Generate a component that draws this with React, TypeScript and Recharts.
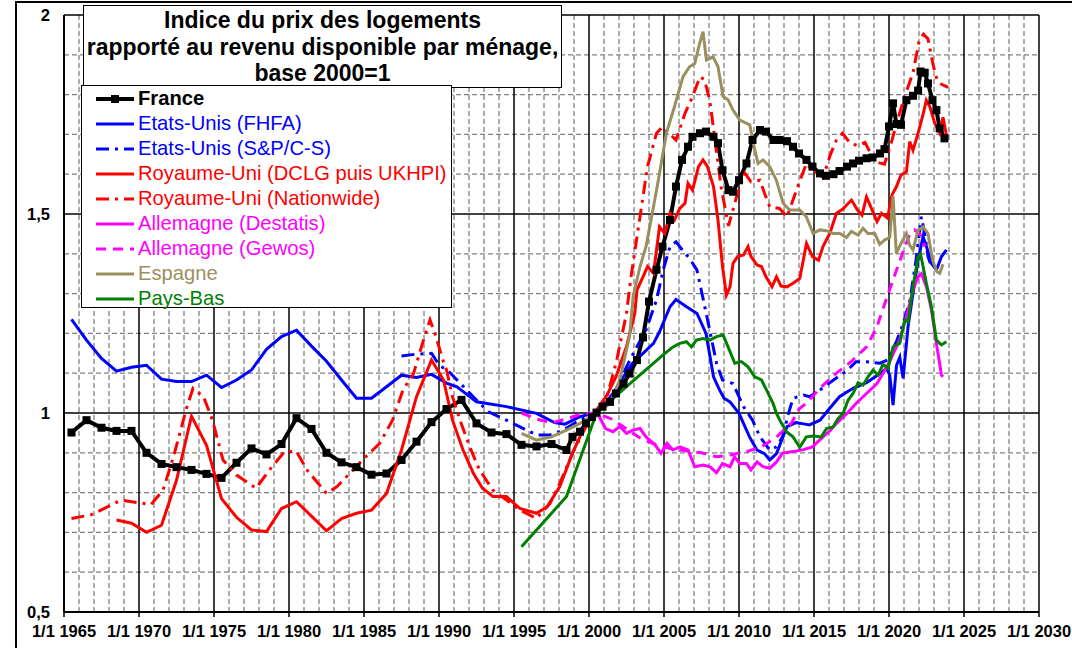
import { LineChart, Line, XAxis, YAxis, CartesianGrid } from 'recharts'

// [année décimale, indice base 2000=1]
const france: [number, number][] = [
  [1965.5, 0.951], [1966.5, 0.982], [1967.5, 0.963], [1968.5, 0.955], [1969.5, 0.955],
  [1970.5, 0.9], [1971.5, 0.872], [1972.5, 0.864], [1973.5, 0.857], [1974.5, 0.847],
  [1975.5, 0.837], [1976.5, 0.875], [1977.5, 0.911], [1978.5, 0.896], [1979.5, 0.922],
  [1980.5, 0.987], [1981.5, 0.96], [1982.5, 0.9], [1983.5, 0.876], [1984.5, 0.864],
  [1985.5, 0.845], [1986.5, 0.848], [1987.5, 0.882], [1988.5, 0.928], [1989.5, 0.977],
  [1990.5, 1.01], [1991.5, 1.033], [1992.5, 0.974], [1993.5, 0.951], [1994.5, 0.947],
  [1995.5, 0.92], [1996.5, 0.916], [1997.5, 0.922], [1998.5, 0.907], [1998.9, 0.94],
  [1999.4, 0.953], [1999.8, 0.974], [2000.2, 0.99], [2000.5, 1.001], [2000.9, 1.016],
  [2001.4, 1.028], [2001.8, 1.049], [2002.3, 1.074], [2002.7, 1.099], [2003.2, 1.133],
  [2003.6, 1.19], [2004.0, 1.28], [2004.5, 1.36], [2004.9, 1.418], [2005.4, 1.485],
  [2005.8, 1.569], [2006.2, 1.636], [2006.6, 1.669], [2006.9, 1.694], [2007.4, 1.703],
  [2007.8, 1.707], [2008.3, 1.694], [2008.6, 1.678], [2008.9, 1.61], [2009.3, 1.56],
  [2009.6, 1.556], [2010.0, 1.585], [2010.5, 1.627], [2010.9, 1.686], [2011.4, 1.711],
  [2011.8, 1.707], [2012.3, 1.686], [2012.7, 1.686], [2013.2, 1.683], [2013.6, 1.669],
  [2014.0, 1.652], [2014.5, 1.636], [2014.9, 1.619], [2015.4, 1.602], [2015.8, 1.596],
  [2016.3, 1.6], [2016.7, 1.608], [2017.2, 1.619], [2017.6, 1.627], [2018.0, 1.634],
  [2018.5, 1.64], [2018.9, 1.642], [2019.4, 1.652], [2019.7, 1.663], [2020.0, 1.72],
  [2020.27, 1.778], [2020.5, 1.726], [2020.8, 1.724], [2021.16, 1.786], [2021.6, 1.797],
  [2021.94, 1.81], [2022.1, 1.858], [2022.38, 1.855], [2022.6, 1.828], [2022.9, 1.786],
  [2023.16, 1.761], [2023.38, 1.715], [2023.7, 1.69],
]

const usFhfa: [number, number][] = [
  [1965.5, 1.235], [1966.5, 1.183], [1967.5, 1.137], [1968.5, 1.105], [1969.5, 1.115],
  [1970.5, 1.12], [1971.5, 1.085], [1972.5, 1.079], [1973.5, 1.079], [1974.5, 1.095],
  [1975.5, 1.064], [1976.5, 1.083], [1977.5, 1.108], [1978.5, 1.16], [1979.5, 1.192],
  [1980.5, 1.208], [1981.5, 1.168], [1982.5, 1.13], [1983.5, 1.083], [1984.5, 1.037],
  [1985.5, 1.037], [1986.5, 1.066], [1987.5, 1.095], [1988.5, 1.089], [1989.5, 1.097],
  [1990.5, 1.075], [1991.2, 1.066], [1992.5, 1.028], [1994.5, 1.016], [1996.5, 0.999],
  [1997.7, 0.976], [1998.4, 0.972], [1999.4, 0.991], [2000.3, 0.999], [2000.9, 1.016],
  [2001.6, 1.049], [2002.3, 1.091], [2002.9, 1.125], [2003.6, 1.15], [2004.3, 1.175],
  [2004.7, 1.204], [2005.4, 1.267], [2005.8, 1.285], [2006.5, 1.267], [2007.2, 1.25],
  [2007.8, 1.2], [2008.3, 1.091], [2008.7, 1.058], [2009.0, 1.037], [2009.4, 1.028],
  [2010.0, 0.999], [2010.7, 0.94], [2011.2, 0.907], [2011.7, 0.898], [2012.05, 0.882],
  [2012.5, 0.898], [2013.2, 0.966], [2013.8, 0.976], [2014.4, 0.972], [2014.7, 0.97],
  [2015.4, 0.982], [2016.05, 1.012], [2016.7, 1.041], [2017.6, 1.062], [2018.5, 1.076],
  [2019.4, 1.099], [2019.83, 1.112], [2020.05, 1.095], [2020.27, 1.02], [2020.5, 1.12],
  [2020.72, 1.14], [2020.94, 1.087], [2021.27, 1.217], [2021.6, 1.3], [2021.94, 1.384],
  [2022.27, 1.443], [2022.5, 1.418], [2022.83, 1.376], [2023.16, 1.359], [2023.5, 1.393],
  [2023.83, 1.41],
]

const usCaseShiller: [number, number][] = [
  [1987.5, 1.143], [1988.5, 1.148], [1989.5, 1.15], [1990.05, 1.118], [1990.5, 1.11],
  [1991.2, 1.083], [1992.3, 1.04], [1993.3, 1.003], [1994.5, 0.982], [1995.4, 0.965],
  [1996.5, 0.945], [1997.4, 0.945], [1998.3, 0.957], [1999.2, 0.978], [2000.3, 0.999],
  [2001.2, 1.024], [2001.8, 1.058], [2002.5, 1.116], [2003.1, 1.16], [2003.8, 1.208],
  [2004.5, 1.284], [2004.95, 1.36], [2005.4, 1.418], [2005.8, 1.43], [2006.4, 1.401],
  [2006.7, 1.389], [2007.2, 1.359], [2007.6, 1.288], [2008.05, 1.208], [2008.5, 1.125],
  [2008.9, 1.083], [2009.6, 1.074], [2010.3, 1.016], [2010.9, 0.982], [2011.4, 0.94],
  [2012.05, 0.907], [2012.5, 0.915], [2012.9, 0.94], [2013.3, 0.999], [2013.6, 1.037],
  [2014.3, 1.045], [2014.7, 1.041], [2015.4, 1.058], [2016.3, 1.083], [2017.2, 1.106],
  [2017.8, 1.129], [2018.5, 1.129], [2019.4, 1.125], [2019.9, 1.133], [2020.5, 1.18],
  [2020.9, 1.22], [2021.4, 1.284], [2021.8, 1.384], [2022.16, 1.493], [2022.38, 1.451],
  [2022.6, 1.393], [2022.83, 1.368],
]

const ukDclg: [number, number][] = [
  [1968.5, 0.731], [1969.5, 0.723], [1970.5, 0.7], [1971.5, 0.718], [1972.5, 0.831],
  [1973.5, 0.992], [1974.5, 0.919], [1975.5, 0.785], [1976.5, 0.738], [1977.5, 0.706],
  [1978.5, 0.702], [1979.5, 0.76], [1980.5, 0.777], [1981.5, 0.741], [1982.5, 0.704],
  [1983.5, 0.735], [1984.5, 0.748], [1985.5, 0.756], [1986.5, 0.798], [1987.5, 0.907],
  [1988.5, 1.041], [1989.5, 1.133], [1990.3, 1.083], [1990.9, 0.982], [1991.6, 0.907],
  [1992.3, 0.848], [1992.9, 0.811], [1993.6, 0.79], [1994.5, 0.79], [1995.4, 0.76],
  [1996.5, 0.748], [1997.2, 0.764], [1998.05, 0.815], [1998.9, 0.899], [1999.8, 0.974],
  [2000.5, 1.007], [2001.2, 1.045], [2001.8, 1.091], [2002.5, 1.167], [2003.05, 1.25],
  [2003.2, 1.309], [2003.6, 1.342], [2003.9, 1.368], [2004.3, 1.351], [2004.7, 1.468],
  [2005.05, 1.451], [2005.4, 1.502], [2005.7, 1.485], [2006.05, 1.514], [2006.4, 1.527],
  [2006.6, 1.577], [2006.9, 1.56], [2007.3, 1.619], [2007.6, 1.636], [2007.9, 1.619],
  [2008.3, 1.569], [2008.6, 1.485], [2008.9, 1.368], [2009.16, 1.296], [2009.4, 1.317],
  [2009.6, 1.376], [2009.9, 1.393], [2010.3, 1.397], [2010.6, 1.418], [2010.8, 1.393],
  [2011.2, 1.372], [2011.5, 1.368], [2011.8, 1.342], [2012.2, 1.317], [2012.5, 1.342],
  [2012.8, 1.319], [2013.2, 1.317], [2013.6, 1.326], [2014.05, 1.338], [2014.5, 1.426],
  [2014.9, 1.393], [2015.3, 1.384], [2015.6, 1.418], [2016.05, 1.451], [2016.5, 1.502],
  [2016.9, 1.512], [2017.5, 1.535], [2017.9, 1.51], [2018.2, 1.497], [2018.5, 1.543],
  [2018.9, 1.508], [2019.2, 1.481], [2019.5, 1.502], [2019.9, 1.49], [2020.2, 1.548],
  [2020.5, 1.569], [2020.8, 1.598], [2021.16, 1.606], [2021.38, 1.682], [2021.6, 1.66],
  [2021.94, 1.703], [2022.27, 1.75], [2022.49, 1.786], [2022.72, 1.77], [2023.05, 1.728],
  [2023.38, 1.703], [2023.6, 1.743], [2023.83, 1.698],
]

const ukNationwide: [number, number][] = [
  [1965.5, 0.735], [1966.8, 0.744], [1968.8, 0.781], [1970.8, 0.77], [1971.6, 0.806],
  [1972.3, 0.89], [1973.2, 1.016], [1973.6, 1.062], [1974.3, 1.041], [1974.9, 0.982],
  [1975.6, 0.882], [1976.5, 0.844], [1977.8, 0.811], [1978.7, 0.857], [1979.7, 0.903],
  [1980.5, 0.903], [1981.2, 0.857], [1982.5, 0.798], [1983.2, 0.815], [1984.05, 0.848],
  [1984.9, 0.882], [1986.05, 0.924], [1986.9, 0.982], [1987.6, 1.058], [1988.3, 1.099],
  [1988.9, 1.175], [1989.4, 1.234], [1989.8, 1.192], [1990.2, 1.14], [1990.5, 1.108],
  [1990.9, 1.041], [1991.4, 0.982], [1992.05, 0.915], [1992.7, 0.857], [1993.6, 0.806],
  [1994.5, 0.781], [1995.4, 0.756], [1996.5, 0.735], [1997.4, 0.773], [1998.05, 0.823],
  [1998.9, 0.899], [1999.8, 0.966], [2000.5, 1.003], [2001.2, 1.041], [2001.8, 1.125],
  [2002.5, 1.25], [2002.8, 1.342], [2003.4, 1.493], [2003.9, 1.619], [2004.5, 1.703],
  [2004.9, 1.719], [2005.4, 1.7], [2005.8, 1.686], [2006.4, 1.753], [2006.9, 1.795],
  [2007.4, 1.845], [2007.7, 1.837], [2008.05, 1.786], [2008.4, 1.686], [2008.8, 1.569],
  [2009.3, 1.47], [2009.9, 1.552], [2010.4, 1.602], [2010.8, 1.581], [2011.4, 1.585],
  [2011.7, 1.552], [2012.05, 1.518], [2012.7, 1.514], [2013.2, 1.493], [2013.6, 1.535],
  [2014.05, 1.583], [2014.5, 1.627], [2014.9, 1.61], [2015.6, 1.592], [2016.1, 1.65],
  [2016.5, 1.686], [2016.9, 1.703], [2017.4, 1.678], [2017.9, 1.672], [2018.4, 1.68],
  [2018.8, 1.65], [2019.2, 1.63], [2019.7, 1.625], [2020.16, 1.68], [2020.6, 1.74],
  [2021.0, 1.79], [2021.6, 1.855], [2022.0, 1.933], [2022.3, 1.952], [2022.6, 1.94],
  [2022.94, 1.875], [2023.2, 1.837], [2023.5, 1.826], [2023.94, 1.818],
]

const deDestatis: [number, number][] = [
  [2000.3, 1.005], [2000.7, 0.99], [2001.1, 0.961], [2001.6, 0.953], [2002.05, 0.966],
  [2002.5, 0.949], [2002.9, 0.957], [2003.4, 0.961], [2003.8, 0.94], [2004.4, 0.92],
  [2004.8, 0.899], [2005.2, 0.924], [2005.6, 0.907], [2006.05, 0.915], [2006.6, 0.907],
  [2007.05, 0.865], [2007.6, 0.869], [2008.05, 0.865], [2008.5, 0.85], [2008.9, 0.873],
  [2009.4, 0.865], [2009.7, 0.89], [2010.05, 0.873], [2010.5, 0.873], [2010.8, 0.857],
  [2011.2, 0.877], [2011.6, 0.865], [2012.05, 0.861], [2012.5, 0.877], [2012.9, 0.899],
  [2013.6, 0.903], [2014.3, 0.908], [2014.9, 0.915], [2015.6, 0.94], [2016.05, 0.955],
  [2016.5, 0.974], [2017.2, 0.999], [2017.8, 1.024], [2018.5, 1.049], [2019.2, 1.074],
  [2019.6, 1.099], [2020.05, 1.13], [2020.7, 1.183], [2021.16, 1.242], [2021.6, 1.309],
  [2021.94, 1.342], [2022.16, 1.35], [2022.5, 1.317], [2022.83, 1.259], [2023.16, 1.175],
  [2023.5, 1.095], [2023.6, 1.091],
]

const deGewos: [number, number][] = [
  [1995.5, 1.0], [1996.5, 0.985], [1997.5, 0.975], [1998.5, 0.985], [1999.5, 0.998],
  [2000.5, 1.0], [2001.5, 0.985], [2002.5, 0.96], [2003.5, 0.935], [2004.5, 0.92],
  [2005.5, 0.91], [2006.5, 0.905], [2007.5, 0.9], [2008.5, 0.89], [2009.5, 0.895],
  [2010.5, 0.903], [2011.5, 0.915], [2012.5, 0.94], [2013.5, 0.975], [2014.0, 1.01],
  [2014.5, 1.025], [2015.5, 1.066], [2016.5, 1.1], [2017.5, 1.13], [2018.5, 1.166],
  [2019.2, 1.217], [2019.8, 1.284], [2020.5, 1.359], [2020.9, 1.401], [2021.4, 1.451],
  [2021.7, 1.46], [2022.05, 1.451], [2022.4, 1.418],
]

const espagne: [number, number][] = [
  [1995.5, 0.949], [1996.5, 0.932], [1997.5, 0.94], [1998.5, 0.957], [1999.4, 0.974],
  [2000.5, 1.0], [2001.4, 1.024], [2002.05, 1.083], [2002.7, 1.192], [2002.94, 1.292],
  [2003.4, 1.368], [2003.8, 1.418], [2004.3, 1.518], [2004.7, 1.602], [2005.16, 1.703],
  [2005.7, 1.77], [2006.27, 1.845], [2006.7, 1.87], [2007.05, 1.878], [2007.38, 1.929],
  [2007.6, 1.958], [2007.83, 1.887], [2008.27, 1.895], [2008.6, 1.87], [2008.94, 1.795],
  [2009.27, 1.787], [2009.6, 1.761], [2010.05, 1.736], [2010.72, 1.724], [2011.05, 1.661],
  [2011.27, 1.627], [2011.6, 1.636], [2012.05, 1.619], [2012.49, 1.585], [2012.94, 1.527],
  [2013.38, 1.51], [2014.05, 1.51], [2014.49, 1.493], [2014.94, 1.451], [2015.38, 1.46],
  [2015.83, 1.458], [2016.27, 1.451], [2016.72, 1.451], [2017.16, 1.441], [2017.49, 1.456],
  [2017.94, 1.447], [2018.27, 1.464], [2018.6, 1.451], [2019.05, 1.451], [2019.38, 1.424],
  [2019.72, 1.435], [2020.05, 1.441], [2020.27, 1.545], [2020.49, 1.401], [2020.83, 1.428],
  [2021.16, 1.451], [2021.38, 1.422], [2021.6, 1.41], [2021.94, 1.46], [2022.27, 1.468],
  [2022.6, 1.451], [2022.9, 1.385], [2023.2, 1.355], [2023.38, 1.351], [2023.6, 1.374],
]

const paysBas: [number, number][] = [
  [1995.5, 0.664], [1998.5, 0.79], [2000.5, 1.0], [2002.5, 1.066], [2004.94, 1.146],
  [2005.6, 1.166], [2006.05, 1.175], [2006.5, 1.179], [2006.83, 1.166], [2007.16, 1.183],
  [2007.6, 1.187], [2008.05, 1.183], [2008.5, 1.192], [2008.94, 1.196], [2009.27, 1.166],
  [2009.72, 1.125], [2010.16, 1.129], [2010.6, 1.116], [2011.05, 1.091], [2011.5, 1.083],
  [2011.83, 1.058], [2012.27, 1.024], [2012.5, 0.999], [2012.72, 0.982], [2013.16, 0.953],
  [2013.6, 0.94], [2014.05, 0.914], [2014.49, 0.94], [2014.94, 0.942], [2015.49, 0.94],
  [2015.83, 0.961], [2016.27, 0.965], [2016.6, 0.986], [2016.94, 0.999], [2017.27, 1.032],
  [2017.6, 1.049], [2017.94, 1.076], [2018.27, 1.07], [2018.6, 1.091], [2018.94, 1.108],
  [2019.27, 1.095], [2019.6, 1.122], [2019.94, 1.112], [2020.27, 1.166], [2020.72, 1.175],
  [2021.05, 1.234], [2021.27, 1.229], [2021.6, 1.317], [2021.94, 1.393], [2022.1, 1.4],
  [2022.49, 1.326], [2022.83, 1.267], [2023.16, 1.183], [2023.49, 1.171], [2023.83, 1.179],
]

const titleLines = [
  'Indice du prix des logements',
  'rapporté au revenu disponible par ménage,',
  'base 2000=1',
]

const xTicks = [1965, 1970, 1975, 1980, 1985, 1990, 1995, 2000, 2005, 2010, 2015, 2020, 2025, 2030]
const yTicks = [0.5, 1, 1.5, 2]

const FONT = '"Liberation Sans", Arial, Helvetica, sans-serif'
const W = 1072
const H = 648

type Serie = {
  name: string
  data: [number, number][]
  color: string
  width: number
  dash?: string
  marker?: boolean
  bold?: boolean
}

const series: Serie[] = [
  { name: 'France', data: france, color: '#000000', width: 4, marker: true, bold: true },
  { name: 'Etats-Unis (FHFA)', data: usFhfa, color: '#0000ff', width: 3 },
  { name: 'Etats-Unis (S&P/C-S)', data: usCaseShiller, color: '#0000ff', width: 3, dash: '13 6 3 6' },
  { name: 'Royaume-Uni (DCLG puis UKHPI)', data: ukDclg, color: '#ff0000', width: 3 },
  { name: 'Royaume-Uni (Nationwide)', data: ukNationwide, color: '#ff0000', width: 3, dash: '13 6 3 6' },
  { name: 'Allemagne (Destatis)', data: deDestatis, color: '#ff00ff', width: 3 },
  { name: 'Allemagne (Gewos)', data: deGewos, color: '#ff00ff', width: 3, dash: '10 7' },
  { name: 'Espagne', data: espagne, color: '#9a8f5e', width: 3 },
  { name: 'Pays-Bas', data: paysBas, color: '#008000', width: 3 },
]

// quadrillage : pointillés chaque année / 0,1 ; traits pleins tous les 5 ans / 0,5
const minorX = Array.from({ length: 64 }, (_, i) => 1966 + i).filter((v) => v % 5 !== 0)
const majorX = xTicks.filter((v) => v > 1965)
const minorY = Array.from({ length: 14 }, (_, i) => Math.round((0.6 + i * 0.1) * 10) / 10).filter(
  (v) => Math.round(v * 10) % 5 !== 0,
)
const majorY = [1, 1.5, 2]

const XTick = (props: any) => {
  const { x, y, payload } = props
  return (
    <text x={x} y={y + 18} textAnchor="middle" fontFamily={FONT} fontWeight="bold" fontSize={16.5} fill="#000">
      1/1 {payload.value}
    </text>
  )
}

const YTick = (props: any) => {
  const { y, payload } = props
  return (
    <text x={50} y={y + 6} textAnchor="end" fontFamily={FONT} fontWeight="bold" fontSize={16.5} fill="#000">
      {String(payload.value).replace('.', ',')}
    </text>
  )
}

const squareDot = (props: any) => {
  const { cx, cy, index } = props
  if (cx == null || cy == null) return <g key={index} />
  return <rect key={index} x={cx - 4} y={cy - 4} width={8} height={8} fill="#000" />
}

function LegendSample({ s }: { s: Serie }) {
  return (
    <svg width={40} height={12} style={{ display: 'block' }}>
      <line x1={1} y1={6} x2={39} y2={6} stroke={s.color} strokeWidth={s.width} strokeDasharray={s.dash} />
      {s.marker && <rect x={16} y={2} width={8} height={8} fill="#000" />}
    </svg>
  )
}

export default function App() {
  return (
    <div style={{ position: 'absolute', left: 0, top: 0, width: W, height: H, overflow: 'hidden', background: '#fff', fontFamily: FONT }}>
      <div style={{ position: 'absolute', left: 15, top: 1, width: 1200, height: 900, border: '2px solid #000' }} />
      <div style={{ position: 'absolute', left: 0, top: 0 }}>
        <LineChart width={W} height={H} margin={{ top: 15, right: 33, bottom: 0, left: 0 }}>
          <CartesianGrid
            horizontalValues={minorY}
            verticalValues={minorX}
            stroke="#808080"
            strokeWidth={1.3}
            strokeDasharray="5 3"
          />
          <CartesianGrid horizontalValues={majorY} verticalValues={majorX} stroke="#000" strokeWidth={1.5} />
          <XAxis
            type="number"
            dataKey="x"
            domain={[1965, 2030]}
            ticks={xTicks}
            interval={0}
            allowDataOverflow
            height={36}
            axisLine={{ stroke: '#000', strokeWidth: 2 }}
            tickLine={{ stroke: '#000', strokeWidth: 1.5 }}
            tickSize={5}
            tick={<XTick />}
          />
          <YAxis
            type="number"
            dataKey="y"
            domain={[0.5, 2]}
            ticks={yTicks}
            interval={0}
            allowDataOverflow
            width={64}
            axisLine={{ stroke: '#000', strokeWidth: 2 }}
            tickLine={false}
            tick={<YTick />}
          />
          {series.map((s) => (
            <Line
              key={s.name}
              data={s.data.map(([x, y]) => ({ x, y }))}
              dataKey="y"
              name={s.name}
              type="linear"
              stroke={s.color}
              strokeWidth={s.width}
              strokeDasharray={s.dash}
              dot={s.marker ? squareDot : false}
              activeDot={false}
              isAnimationActive={false}
            />
          ))}
        </LineChart>
      </div>

      {/* titre */}
      <div
        style={{
          position: 'absolute', left: 83, top: 5, width: 477, height: 80, border: '1.5px solid #000',
          background: '#fff', textAlign: 'center', fontWeight: 'bold', fontSize: 23, lineHeight: '26.5px',
          paddingTop: 1, boxSizing: 'content-box',
        }}
      >
        {titleLines.map((t) => (
          <div key={t} style={{ whiteSpace: 'nowrap' }}>{t}</div>
        ))}
      </div>

      {/* légende */}
      <div
        style={{
          position: 'absolute', left: 81, top: 85, width: 369, height: 221, border: '1.5px solid #000',
          background: '#fff', paddingTop: 0,
        }}
      >
        {series.map((s) => (
          <div key={s.name} style={{ display: 'flex', alignItems: 'center', height: 25, paddingLeft: 13 }}>
            <LegendSample s={s} />
            <span
              style={{
                marginLeft: 3, fontSize: 20.2, color: s.color, fontWeight: s.bold ? 'bold' : 'normal',
                whiteSpace: 'nowrap', lineHeight: '25px',
              }}
            >
              {s.name}
            </span>
          </div>
        ))}
      </div>
    </div>
  )
}
